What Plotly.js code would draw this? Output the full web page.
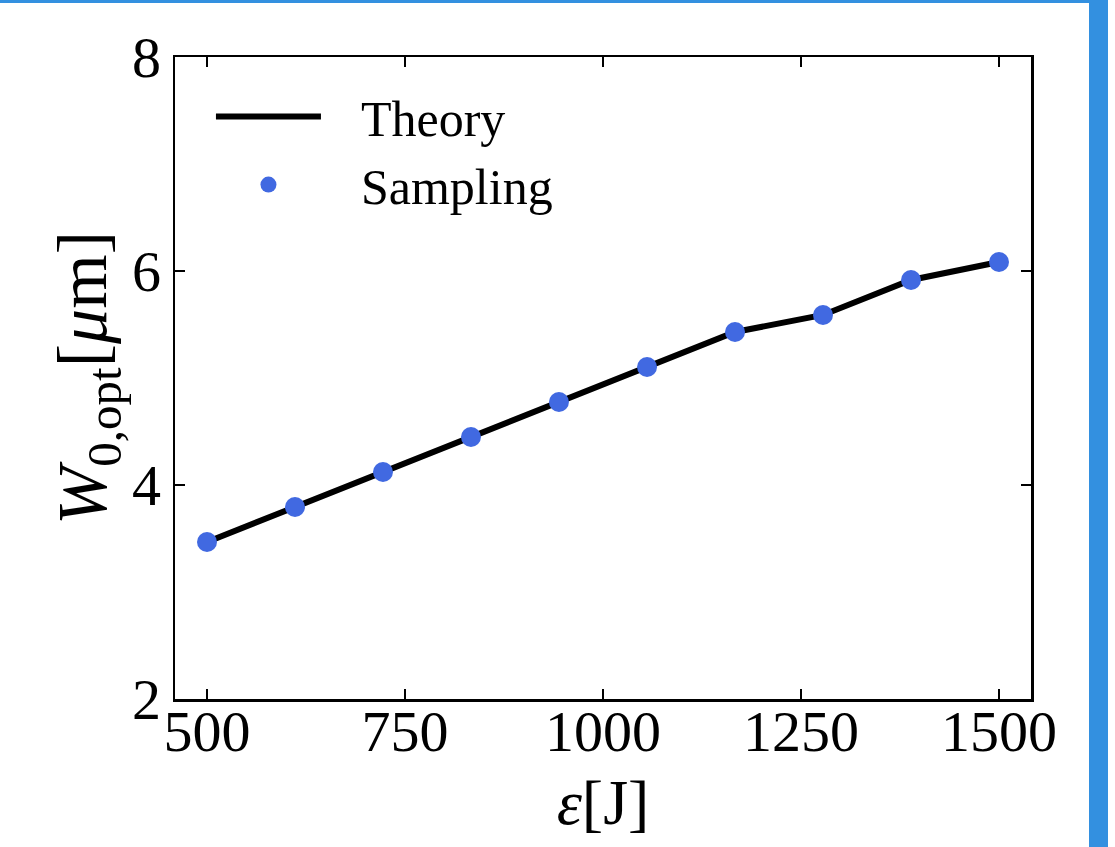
<!DOCTYPE html>
<html>
<head>
<meta charset="utf-8">
<script src="https://cdn.plot.ly/plotly-3.0.1.min.js"></script>
<style>
  html, body { margin: 0; padding: 0; background: #ffffff; overflow: hidden; }
  #chart { width: 1115px; height: 847px; }
  #topbar { position: absolute; left: 0; top: 0; width: 1108px; height: 3px; background: #3390E0; }
  #rightbar { position: absolute; left: 1089px; top: 0; width: 19px; height: 847px; background: #3390E0; }
</style>
</head>
<body>
<div id="chart"></div>
<div id="topbar"></div>
<div id="rightbar"></div>
<script>
// Data
const energy = [500, 611.1, 722.2, 833.3, 944.4, 1055.6, 1166.7, 1277.8, 1388.9, 1500];
const theoryW = [3.467, 3.794, 4.121, 4.449, 4.776, 5.103, 5.430, 5.589, 5.916, 6.084];
const samplingW = [3.467, 3.794, 4.121, 4.449, 4.776, 5.103, 5.430, 5.589, 5.916, 6.084];
const xTicks = [500, 750, 1000, 1250, 1500];
const yTicks = [2, 4, 6, 8];

const FONT = "Liberation Serif, Times New Roman, serif";
const PAD = "\u00A0\u00A0\u2009";

const traces = [
  {
    x: energy, y: theoryW, type: 'scatter', mode: 'lines', name: PAD + 'Theory',
    line: { color: '#000000', width: 6 }
  },
  {
    x: energy, y: samplingW, type: 'scatter', mode: 'markers', name: PAD + 'Sampling',
    marker: { color: '#4169E1', size: 20, line: { width: 0 } }
  }
];

const axisCommon = {
  showgrid: false, zeroline: false,
  showline: true, linecolor: '#000000', linewidth: 2.5, mirror: 'ticks',
  ticks: 'inside', ticklen: 10, tickwidth: 2, tickcolor: '#000000',
  tickfont: { family: FONT, size: 58, color: '#000000' }
};

const layout = {
  width: 1115, height: 847,
  paper_bgcolor: '#ffffff', plot_bgcolor: '#ffffff',
  margin: { l: 175, r: 84, t: 57, b: 148 },
  showlegend: true,
  legend: {
    x: 0.042, y: 0.968, xanchor: 'left', yanchor: 'top',
    bgcolor: 'rgba(0,0,0,0)', borderwidth: 0,
    font: { family: FONT, size: 50, color: '#000000' },
    itemwidth: 105, tracegroupgap: 10
  },
  xaxis: Object.assign({}, axisCommon, {
    range: [459.6, 1540.4], tickvals: xTicks, ticktext: xTicks.map(String),
    ticklabelstandoff: -20,
    title: { text: '<i>ε</i>[J]', font: { family: FONT, size: 64, color: '#000000' }, standoff: 16 }
  }),
  yaxis: Object.assign({}, axisCommon, {
    range: [2, 8], tickvals: yTicks, ticktext: yTicks.map(String),
    title: { text: '<i>W</i><sub>0,opt</sub>[<i>μ</i>m]', font: { family: FONT, size: 70, color: '#000000' }, standoff: 2 }
  })
};

Plotly.newPlot('chart', traces, layout, { displayModeBar: false, staticPlot: true });
</script>
</body>
</html>
